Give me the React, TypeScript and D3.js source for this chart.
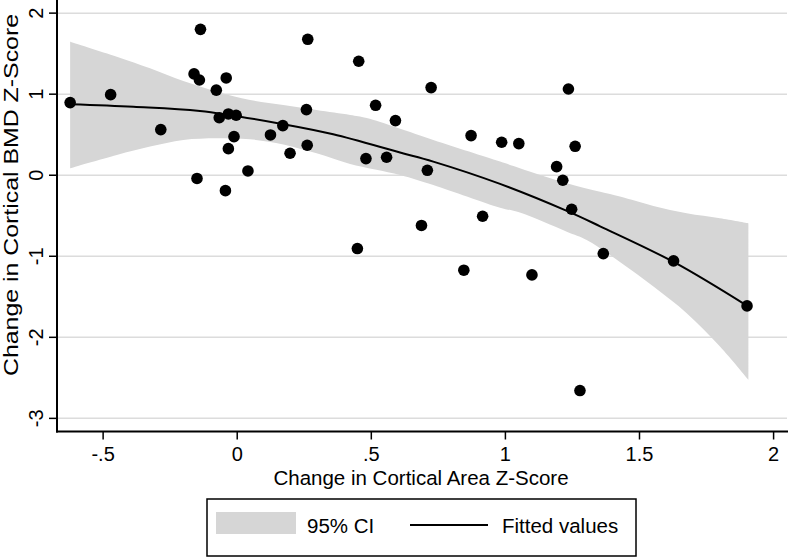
import React from "react";
import * as d3 from "d3";

// Scatter data (Change in Cortical Area Z-Score, Change in Cortical BMD Z-Score)
const pointX = [
  -0.623, -0.472, -0.285, -0.161, -0.141, -0.137, -0.15, -0.041, -0.078, -0.067,
  -0.033, -0.004, -0.012, -0.033, -0.044, 0.04, 0.124, 0.17, 0.197, 0.258,
  0.261, 0.263, 0.453, 0.516, 0.59, 0.723, 0.48, 0.557, 0.709, 0.872,
  0.986, 1.05, 1.235, 1.26, 1.191, 1.214, 1.247, 0.915, 0.687, 0.448,
  0.845, 1.099, 1.365, 1.627, 1.901, 1.278,
];
const pointY = [
  0.896, 0.994, 0.563, 1.25, 1.175, 1.8, -0.04, 1.2, 1.05, 0.71,
  0.756, 0.74, 0.476, 0.328, -0.19, 0.053, 0.497, 0.612, 0.271, 0.81,
  0.37, 1.677, 1.406, 0.863, 0.674, 1.081, 0.205, 0.222, 0.061, 0.489,
  0.407, 0.39, 1.064, 0.357, 0.106, -0.062, -0.42, -0.506, -0.62, -0.905,
  -1.172, -1.23, -0.967, -1.057, -1.612, -2.657,
];

// Fitted values (quadratic fit)
const fitX = [-0.623, -0.387, -0.139, 0.172, 0.358, 0.607, 0.731, 0.98, 1.229, 1.353, 1.627, 1.903];
const fitY = [0.876, 0.845, 0.793, 0.63, 0.505, 0.28, 0.168, -0.107, -0.44, -0.63, -1.07, -1.615];

// 95% CI band
const ciUpperX = [-0.623, -0.449, -0.325, -0.201, -0.076, 0.048, 0.172, 0.296, 0.421, 0.483, 0.731, 0.98, 1.054, 1.229, 1.353, 1.427, 1.552, 1.676, 1.8, 1.906];
const ciUpperY = [1.648, 1.463, 1.32, 1.163, 1.031, 0.929, 0.867, 0.805, 0.744, 0.705, 0.435, 0.168, 0.086, -0.099, -0.205, -0.264, -0.379, -0.469, -0.53, -0.592];
const ciLowerX = [-0.623, -0.449, -0.325, -0.201, -0.076, 0.048, 0.172, 0.296, 0.421, 0.607, 0.731, 0.98, 1.054, 1.229, 1.303, 1.427, 1.552, 1.676, 1.8, 1.906];
const ciLowerY = [0.086, 0.25, 0.353, 0.435, 0.456, 0.444, 0.38, 0.27, 0.14, 0.004, -0.12, -0.4, -0.46, -0.696, -0.798, -1.07, -1.374, -1.703, -2.114, -2.525];

const xTicks = [-0.5, 0, 0.5, 1, 1.5, 2];
const xTickLabels = ["-.5", "0", ".5", "1", "1.5", "2"];
const yTicks = [-3, -2, -1, 0, 1, 2];
const yTickLabels = ["-3", "-2", "-1", "0", "1", "2"];

const xTitle = "Change in Cortical Area Z-Score";
const yTitle = "Change in Cortical BMD Z-Score";
const legendLabels = ["95% CI", "Fitted values"];

const W = 788;
const H = 558;
const FONT = "'Liberation Sans', Arial, Helvetica, sans-serif";

export default function App() {
  const left = 57;
  const right = 787;
  const top = 0;
  const bottom = 431.5;

  const x = d3.scaleLinear().domain([-0.672, 2.05]).range([left, right]);
  const y = d3.scaleLinear().domain([-3.162, 2.162]).range([bottom, top]);

  const fitPts: [number, number][] = fitX.map((v, i) => [v, fitY[i]]);
  const line = d3
    .line<[number, number]>()
    .x((d) => x(d[0]))
    .y((d) => y(d[1]))
    .curve(d3.curveCatmullRom.alpha(0.5));

  const upper: [number, number][] = ciUpperX.map((v, i) => [v, ciUpperY[i]]);
  const lower: [number, number][] = ciLowerX.map((v, i) => [v, ciLowerY[i]]);
  const upperPath = line(upper) || "";
  const lowerRev = line(lower.slice().reverse()) || "";
  const bandPath = upperPath + "L" + lowerRev.slice(1) + "Z";

  const grey = "#d6d6d6";

  return (
    <svg
      width={W}
      height={H}
      style={{ position: "absolute", left: 0, top: 0, background: "#fff" }}
      fontFamily={FONT}
    >
      <rect x={0} y={0} width={W} height={H} fill="#fff" />
      {/* gridlines */}
      {yTicks.map((t) => (
        <line key={"g" + t} x1={left} x2={right} y1={y(t)} y2={y(t)} stroke="#dcdcdc" strokeWidth={1.5} />
      ))}
      {/* CI band */}
      <path d={bandPath} fill={grey} stroke="none" />
      {/* fitted line */}
      <path d={line(fitPts) || ""} fill="none" stroke="#000" strokeWidth={2} />
      {/* points */}
      {pointX.map((v, i) => (
        <circle key={"p" + i} cx={x(v)} cy={y(pointY[i])} r={5.8} fill="#000" />
      ))}
      {/* axes */}
      <line x1={left} x2={left} y1={0} y2={bottom + 1} stroke="#000" strokeWidth={2} />
      <line x1={left - 1} x2={right + 1} y1={bottom} y2={bottom} stroke="#000" strokeWidth={2} />
      {yTicks.map((t, i) => (
        <g key={"yt" + t}>
          <line x1={left - 8} x2={left} y1={y(t)} y2={y(t)} stroke="#000" strokeWidth={1.5} />
          <text
            transform={`translate(42.5,${y(t)}) rotate(-90)`}
            textAnchor="middle"
            fontSize={20}
            fill="#000"
          >
            {yTickLabels[i]}
          </text>
        </g>
      ))}
      {xTicks.map((t, i) => (
        <g key={"xt" + t}>
          <line x1={x(t)} x2={x(t)} y1={bottom} y2={bottom + 8} stroke="#000" strokeWidth={1.5} />
          <text x={x(t)} y={460.5} textAnchor="middle" fontSize={20} fill="#000">
            {xTickLabels[i]}
          </text>
        </g>
      ))}
      {/* axis titles */}
      <text x={421} y={485} textAnchor="middle" fontSize={20.5} fill="#000">
        {xTitle}
      </text>
      <text
        transform={`translate(18,195) rotate(-90)`}
        textAnchor="middle"
        fontSize={20.5}
        fill="#000"
        textLength={362}
        lengthAdjust="spacingAndGlyphs"
      >
        {yTitle}
      </text>
      {/* legend */}
      <rect x={207} y={499} width={429} height={57} fill="#fff" stroke="#000" strokeWidth={1.5} />
      <rect x={216} y={512} width={80} height={22} fill={grey} />
      <text x={307} y={532.5} fontSize={20.5} fill="#000">
        {legendLabels[0]}
      </text>
      <line x1={410} x2={488} y1={525} y2={525} stroke="#000" strokeWidth={2} />
      <text x={502} y={532.5} fontSize={20.5} fill="#000">
        {legendLabels[1]}
      </text>
    </svg>
  );
}
